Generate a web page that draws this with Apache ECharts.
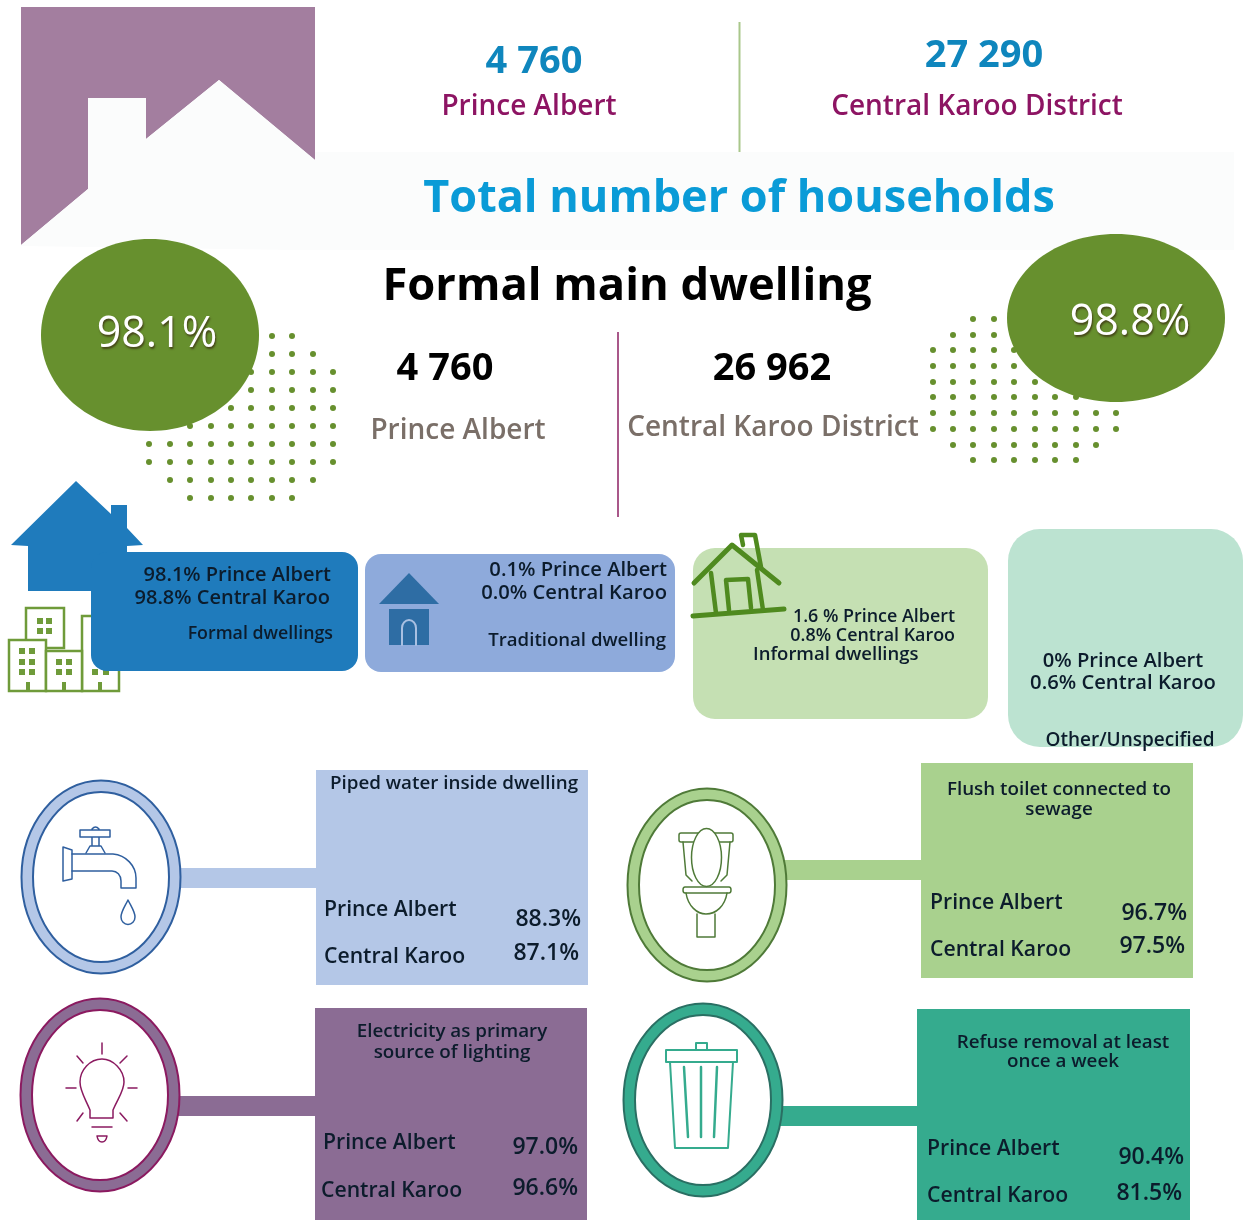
<!DOCTYPE html>
<html>
<head>
<meta charset="utf-8">
<title>Households</title>
<script src="https://cdn.jsdelivr.net/npm/echarts@6/dist/echarts.min.js"></script>
<style>
  html, body { margin: 0; padding: 0; background: #fff; }
  #main { width: 1245px; height: 1220px; }
</style>
</head>
<body>
<div id="main"></div>
<script>
const places = ['Prince Albert', 'Central Karoo'];
const placesLong = ['Prince Albert', 'Central Karoo District'];
const totalHouseholds = [4760, 27290];
const formalHouseholds = [4760, 26962];
const formalShare = [98.1, 98.8];
const traditionalShare = [0.1, 0.0];
const informalShare = [1.6, 0.8];
const otherShare = [0, 0.6];
const waterShare = [88.3, 87.1];
const toiletShare = [96.7, 97.5];
const lightShare = [97.0, 96.6];
const refuseShare = [90.4, 81.5];

const FONT = '"Open Sans", "Noto Sans", sans-serif';
const els = [];
let pathCount = 0;

function count(n) { return String(n).replace(/\B(?=(\d{3})+$)/g, ' '); }
function pct(n) { return n.toFixed(1) + '%'; }

function text(str, x, y, size, fill, align, weight, extra) {
  els.push({
    type: 'text', silent: true,
    style: Object.assign({
      text: str, x: x, y: y + size * 0.07, fill: fill,
      font: (weight || 600) + ' ' + size + 'px ' + FONT,
      textAlign: align || 'center', textVerticalAlign: 'middle'
    }, extra || {})
  });
}
function rect(x, y, w, h, fill, r) {
  els.push({ type: 'rect', silent: true, shape: { x: x, y: y, width: w, height: h, r: r || 0 }, style: { fill: fill } });
}
function poly(points, fill) {
  els.push({ type: 'polygon', silent: true, shape: { points: points }, style: { fill: fill } });
}
function ellipse(cx, cy, rx, ry, fill, stroke, lw) {
  els.push({ type: 'ellipse', silent: true, shape: { cx: cx, cy: cy, rx: rx, ry: ry }, style: { fill: fill, stroke: stroke || null, lineWidth: lw || 0 } });
}
// the graphic component has no plain path type, so register one shape per icon path
function path(d, stroke, lw, fill) {
  const name = 'iconPath' + (pathCount++);
  echarts.graphic.registerShape(name, echarts.graphic.extendPath(d));
  els.push({ type: name, silent: true, shape: {}, style: { fill: fill || 'none', stroke: stroke, lineWidth: lw || 1.5, lineCap: 'round', lineJoin: 'round' } });
}

// header house and pale band
poly([[21, 7], [315, 7], [315, 160], [219, 80], [146, 139], [146, 98], [88, 98], [88, 189], [21, 245]], '#a37e9f');
poly([[21, 245], [88, 189], [88, 98], [146, 98], [146, 139], [219, 80], [315, 160], [315, 152], [1234, 152], [1234, 250], [295, 250], [21, 246]], '#fbfcfc');
rect(738.5, 22, 2, 130, '#a9c78b');

text(count(totalHouseholds[0]), 534, 60, 38, '#0f86bd', 'center', 700);
text(placesLong[0], 529, 105, 28, '#8d1463', 'center', 600);
text(count(totalHouseholds[1]), 984, 54, 38, '#0f86bd', 'center', 700);
text(placesLong[1], 977, 105, 28, '#8d1463', 'center', 600);
text('Total number of households', 739, 196, 45, '#0a9bd7', 'center', 700);

// dot fields under the two green circles
function dots(xs, ys, spans) {
  spans.forEach(function (s, r) {
    for (let c = s[0]; c <= s[1]; c++) {
      els.push({ type: 'circle', silent: true, shape: { cx: xs[c], cy: ys[r], r: 3 }, style: { fill: '#67902e' } });
    }
  });
}
const dotSpans = [[2, 7], [1, 8], [0, 9], [0, 9], [0, 9], [0, 9], [0, 9], [0, 9], [1, 8], [2, 7]];
dots([149, 170, 190, 211, 231, 251, 272, 292, 313, 333], [336, 354, 372, 390, 408, 426, 444, 462, 480, 498], dotSpans);
dots([933, 953, 973, 994, 1014, 1035, 1055, 1076, 1096, 1116], [319, 335, 350, 366, 382, 397, 413, 429, 445, 460], dotSpans);

ellipse(150, 335, 109, 96, '#67902e');
ellipse(1116, 318, 109, 84, '#67902e');
const shareShadow = { textShadowColor: 'rgba(60,50,20,0.8)', textShadowBlur: 2, textShadowOffsetX: 1, textShadowOffsetY: 2 };
text(pct(formalShare[0]), 157, 332, 43, '#ffffff', 'center', 400, shareShadow);
text(pct(formalShare[1]), 1130, 320, 43, '#ffffff', 'center', 400, shareShadow);

text('Formal main dwelling', 627, 284, 45.3, '#000000', 'center', 700);
rect(617, 332, 2, 185, '#a9588a');
text(count(formalHouseholds[0]), 445, 367, 38, '#000000', 'center', 700);
text(placesLong[0], 458, 429, 28, '#7a6f68', 'center', 600);
text(count(formalHouseholds[1]), 772, 367, 38, '#000000', 'center', 700);
text(placesLong[1], 773, 426, 28, '#7a6f68', 'center', 600);

// formal dwellings card with buildings and blue house
const bGreen = '#6f9b3a';
function building(x, y, w, h) {
  els.push({ type: 'rect', silent: true, shape: { x: x, y: y, width: w, height: h }, style: { fill: '#fff', stroke: bGreen, lineWidth: 2.5 } });
}
function win(x, y) { rect(x, y, 6, 6, bGreen); }
building(26, 608, 38, 40);
building(82, 616, 37, 75);
building(9, 640, 37, 51);
building(46, 651, 36, 40);
[[37, 618], [46, 618], [37, 628], [46, 628], [19, 648], [29, 648], [19, 659], [29, 659], [19, 669], [29, 669],
  [56, 659], [66, 659], [56, 669], [66, 669], [92, 669], [103, 669]].forEach(function (p) { win(p[0], p[1]); });
rect(26, 682, 4, 9, bGreen);
rect(62, 682, 4, 9, bGreen);
rect(98, 682, 4, 9, bGreen);

poly([[76, 481], [111, 514], [111, 505], [127, 505], [127, 528], [143, 545], [127, 546], [127, 560], [92, 591], [28, 591], [28, 546], [11, 545]], '#1f7bbc');
rect(91, 552, 267, 119, '#1f7bbc', 16);
const darkText = '#0c1c2c';
text(formalShare[0] + '% ' + places[0], 331, 574, 20, darkText, 'right');
text(formalShare[1] + '% ' + places[1], 330, 597, 20, darkText, 'right');
text('Formal dwellings', 333, 633, 17.8, darkText, 'right');

// traditional
rect(365, 554, 310, 118, '#8eaadb', 16);
poly([[409, 573], [439, 604], [379, 604]], '#2e6da4');
rect(389, 609, 40, 36, '#2e6da4');
path('M402 645 V628 A7 8 0 0 1 416 628 V645', '#a9c0e2', 2);
text(traditionalShare[0].toFixed(1) + '% ' + places[0], 667, 569, 20.2, darkText, 'right');
text(traditionalShare[1].toFixed(1) + '% ' + places[1], 667, 592, 20.2, darkText, 'right');
text('Traditional dwelling', 666, 639, 18.6, darkText, 'right');

// informal
rect(693, 548, 295, 171, '#c5e0b3', 22);
const houseGreen = '#4f8a1f';
path('M693 616 L784 609', houseGreen, 5);
path('M694 583 L732 545 L779 583', houseGreen, 5);
path('M743 545 L741 535 L755 535 L761 567', houseGreen, 4.5);
path('M711 573 L716 613 M757 570 L763 610', houseGreen, 4.5);
path('M729 610 L726 580 L748 579 L751 608', houseGreen, 4.5);
text(informalShare[0] + ' % ' + places[0], 955, 616, 17.9, darkText, 'right');
text(informalShare[1] + '% ' + places[1], 955, 635, 17.9, darkText, 'right');
text('Informal dwellings', 753, 653, 18.5, darkText, 'left');

// other
rect(1008, 529, 235, 218, '#bce3d1', 32);
text(otherShare[0] + '% ' + places[0], 1123, 660, 20.2, darkText);
text(otherShare[1] + '% ' + places[1], 1123, 682, 20.2, darkText);
text('Other/Unspecified', 1130, 739, 19, darkText);

// service panels
function panel(o) {
  rect(o.ring[0] + 70, o.barY, o.box[0] - o.ring[0] - 70, 20, o.color);
  ellipse(o.ring[0], o.ring[1], 79.5, 96.5, o.color, o.line, 2);
  ellipse(o.ring[0], o.ring[1], 68, 85, '#ffffff', o.line, 2);
  rect(o.box[0], o.box[1], o.box[2], o.box[3], o.color);
  o.title.forEach(function (t, i) { text(t, o.titleX, o.titleY[i], 18.8, darkText); });
  text(places[0], o.labelX[0], o.labelY[0], 21.2, darkText, 'left');
  text(places[1], o.labelX[1], o.labelY[1], 21.2, darkText, 'left');
  text(pct(o.values[0]), o.valueX[0], o.valueY[0], 23, darkText, 'right');
  text(pct(o.values[1]), o.valueX[1], o.valueY[1], 23, darkText, 'right');
}
panel({
  ring: [101, 877], barY: 868, box: [316, 770, 272, 215], color: '#b4c7e7', line: '#2f5f9f',
  title: ['Piped water inside dwelling'], titleX: 454, titleY: [782],
  labelX: [324, 324], labelY: [908, 955], valueX: [581, 579], valueY: [918, 952], values: waterShare
});
panel({
  ring: [707, 885], barY: 860, box: [921, 763, 272, 215], color: '#a9d18e', line: '#4f7a38',
  title: ['Flush toilet connected to', 'sewage'], titleX: 1059, titleY: [788, 808],
  labelX: [930, 930], labelY: [901, 948], valueX: [1187, 1185], valueY: [912, 945], values: toiletShare
});
panel({
  ring: [100, 1095], barY: 1096, box: [315, 1008, 272, 212], color: '#8b6c94', line: '#8b1a60',
  title: ['Electricity as primary', 'source of lighting'], titleX: 452, titleY: [1030, 1051],
  labelX: [323, 321], labelY: [1141, 1189], valueX: [578, 578], valueY: [1146, 1187], values: lightShare
});
panel({
  ring: [703, 1100], barY: 1106, box: [917, 1009, 273, 211], color: '#35ab8e', line: '#2a6f63',
  title: ['Refuse removal at least', 'once a week'], titleX: 1063, titleY: [1041, 1060],
  labelX: [927, 927], labelY: [1147, 1194], valueX: [1184, 1182], valueY: [1156, 1192], values: refuseShare
});

// tap
const tap = '#2f5f9f';
path('M63 847 L72 850 V879 L63 881 Z', tap);
path('M72 854 H113 C126 855 136 866 136 878 V888 H121 V881 C121 875 117 871 112 871 H72', tap);
path('M80 830 H110 V837 H80 Z M92 837 V845 M99 837 V845 M92 829 Q95.5 825 99 829 M86 853 L90 846 H101 L105 853', tap);
path('M128 900 C124 908 121 912 121 917 A7 7.5 0 0 0 135 917 C135 912 132 908 128 900 Z', tap);

// bulb
const bulb = '#8b1a60';
path('M102 1059 C90 1059 80 1070 80 1082 C80 1091 85 1098 90 1110 L90 1118 H113 L113 1110 C118 1098 124 1091 124 1082 C124 1070 113 1059 102 1059 Z', bulb);
path('M102 1043 V1054 M66 1088 H76 M128 1088 H137 M77 1056 L83 1063 M127 1056 L120 1063 M77 1121 L83 1113 M127 1121 L120 1113 M92 1127 H112', bulb);
path('M97 1136 H107 Q106 1142 102 1142 Q98 1142 97 1136 Z', bulb);

// toilet
const loo = '#4f7a38';
path('M679 835 Q679 833 681 833 H731 Q733 833 733 835 V840 Q733 842 731 842 H681 Q679 842 679 840 Z', loo);
els.push({ type: 'ellipse', silent: true, shape: { cx: 706.5, cy: 857.5, rx: 15, ry: 29 }, style: { fill: '#fff', stroke: loo, lineWidth: 1.5 } });
path('M683 842 L686 875 L692 881 M730 842 L727 875 L721 881', loo);
path('M685 887 H729 Q731 887 731 890 Q731 893 729 893 H685 Q683 893 683 890 Q683 887 685 887 Z', loo);
path('M686 893 C688 906 697 914 706 914 C716 914 725 906 727 893 M697 914 V937 H715 V914', loo);

// bin
const binC = '#35ab8e';
path('M666 1050 H737 V1062 H666 Z M696 1050 V1043 H707 V1050 M670 1062 L675 1148 H728 L733 1062', binC, 2);
path('M684 1067 L688 1137 M701 1067 V1137 M717 1067 L714 1137', binC, 2.5);

const chart = echarts.init(document.getElementById('main'));
chart.setOption({
  backgroundColor: '#ffffff',
  animation: false,
  graphic: { elements: els }
});
</script>
</body>
</html>
